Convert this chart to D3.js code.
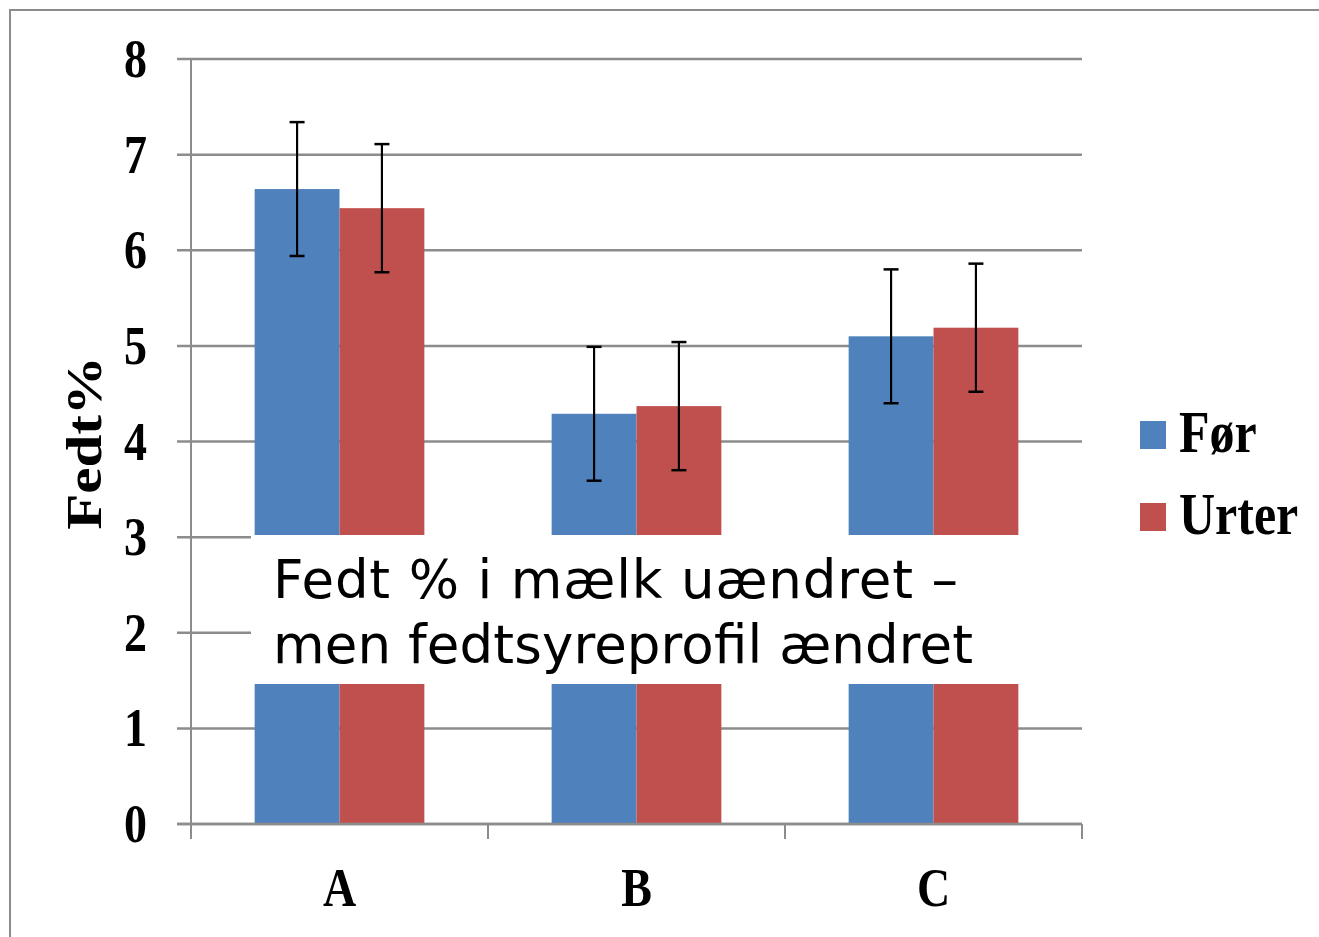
<!DOCTYPE html>
<html>
<head>
<meta charset="utf-8">
<script src="https://cdn.jsdelivr.net/npm/d3@7"></script>
<style>
  body { margin: 0; background: #fff; }
  svg { display: block; }
</style>
</head>
<body>
<svg id="chart" width="1319" height="937"></svg>
<script>
// data
const categories = ["A", "B", "C"];
const seriesNames = ["Før", "Urter"];
const seriesColors = ["#4f81bd", "#c0504d"];
const forValues = [6.64, 4.29, 5.10];
const urterValues = [6.44, 4.37, 5.19];
const forErr = [0.70, 0.70, 0.70];
const urterErr = [0.67, 0.67, 0.67];
const yTicks = [0, 1, 2, 3, 4, 5, 6, 7, 8];
const noteLines = ["Fedt % i mælk uændret –", "men fedtsyreprofil ændret"];
const noteWidths = [685, 700];

const svg = d3.select("#chart");
const stretch = 1.18; // serif labels in the picture are drawn a bit tall

const margin = { left: 191, right: 1082, top: 59, bottom: 824 };

const x = d3.scaleBand()
    .domain(categories)
    .range([margin.left, margin.right]);

const xSeries = d3.scaleBand()
    .domain(seriesNames)
    .range([0, x.bandwidth()])
    .paddingOuter(0.75)
    .paddingInner(0);

const y = d3.scaleLinear()
    .domain([0, 8])
    .range([margin.bottom, margin.top]);

// outer frame
svg.append("rect")
    .attr("x", 10).attr("y", 10)
    .attr("width", 1400).attr("height", 1000)
    .attr("fill", "none")
    .attr("stroke", "#8c8c8c")
    .attr("stroke-width", 2);

// grid lines + y ticks
svg.append("g")
    .selectAll("line")
    .data(yTicks)
    .join("line")
    .attr("x1", margin.left - 14)
    .attr("x2", margin.right)
    .attr("y1", (d) => y(d))
    .attr("y2", (d) => y(d))
    .attr("stroke", "#8c8c8c")
    .attr("stroke-width", 2.5);

// y axis line
svg.append("line")
    .attr("x1", margin.left).attr("x2", margin.left)
    .attr("y1", margin.top).attr("y2", margin.bottom + 15)
    .attr("stroke", "#8c8c8c")
    .attr("stroke-width", 2);

// category tick marks
const catEdges = [0, 1, 2, 3].map((i) => margin.left + i * x.step());
svg.append("g")
    .selectAll("line")
    .data(catEdges)
    .join("line")
    .attr("x1", (d) => d).attr("x2", (d) => d)
    .attr("y1", margin.bottom).attr("y2", margin.bottom + 15)
    .attr("stroke", "#8c8c8c")
    .attr("stroke-width", 2);

// bars
const series = [
    { name: "Før", values: forValues, err: forErr, color: seriesColors[0] },
    { name: "Urter", values: urterValues, err: urterErr, color: seriesColors[1] },
];

for (const s of series) {
    const g = svg.append("g");
    g.selectAll("rect")
        .data(categories)
        .join("rect")
        .attr("x", (d) => x(d) + xSeries(s.name))
        .attr("width", xSeries.bandwidth())
        .attr("y", (d, i) => y(s.values[i]))
        .attr("height", (d, i) => y(0) - y(s.values[i]))
        .attr("fill", s.color);
}

// x axis line over the bars
svg.append("line")
    .attr("x1", margin.left - 14).attr("x2", margin.right)
    .attr("y1", margin.bottom).attr("y2", margin.bottom)
    .attr("stroke", "#8c8c8c")
    .attr("stroke-width", 2.5);

// error bars
for (const s of series) {
    const g = svg.append("g").attr("stroke", "#000").attr("stroke-width", 2.2);
    categories.forEach((c, i) => {
        const cx = x(c) + xSeries(s.name) + xSeries.bandwidth() / 2;
        const top = y(s.values[i] + s.err[i]);
        const bot = y(s.values[i] - s.err[i]);
        g.append("line").attr("x1", cx).attr("x2", cx).attr("y1", top).attr("y2", bot);
        g.append("line").attr("x1", cx - 7.5).attr("x2", cx + 7.5).attr("y1", top).attr("y2", top).attr("stroke-width", 2.5);
        g.append("line").attr("x1", cx - 7.5).attr("x2", cx + 7.5).attr("y1", bot).attr("y2", bot).attr("stroke-width", 2.5);
    });
}

// note box covering the middle of the chart
svg.append("rect")
    .attr("x", 251).attr("y", 535)
    .attr("width", 840).attr("height", 149)
    .attr("fill", "#fff");

svg.append("g")
    .selectAll("text")
    .data(noteLines)
    .join("text")
    .attr("x", 273)
    .attr("y", (d, i) => 598 + i * 65)
    .attr("font-family", "DejaVu Sans, Verdana, sans-serif")
    .attr("font-size", 53)
    .attr("textLength", (d, i) => noteWidths[i])
    .attr("lengthAdjust", "spacing")
    .attr("fill", "#000")
    .text((d) => d);

function serifText(g, tx, ty, txt, size, anchor, rotate) {
    return g.append("text")
        .attr("transform", `translate(${tx},${ty})` + (rotate ? ` rotate(${rotate})` : "") + ` scale(${rotate ? stretch : 1},${rotate ? 1 : stretch})`)
        .attr("text-anchor", anchor)
        .attr("font-family", "Liberation Serif, Times New Roman, serif")
        .attr("font-weight", "bold")
        .attr("font-size", size)
        .attr("fill", "#000")
        .text(txt);
}

// y tick labels
const labels = svg.append("g");
yTicks.forEach((t) => serifText(labels, 147, y(t) + 18, t, 46, "end"));

// category labels
categories.forEach((c) => serifText(labels, x(c) + x.bandwidth() / 2, 906, c, 46, "middle"));

// axis title
serifText(labels, 101, 443, "Fedt%", 50, "middle", -90);

// legend
seriesNames.forEach((n, i) => {
    const ly = 435 + i * 82;
    svg.append("rect")
        .attr("x", 1140).attr("y", ly - 14)
        .attr("width", 26).attr("height", 28)
        .attr("fill", seriesColors[i]);
    serifText(labels, 1179, ly + 17, n, 50, "start");
});
</script>
</body>
</html>
